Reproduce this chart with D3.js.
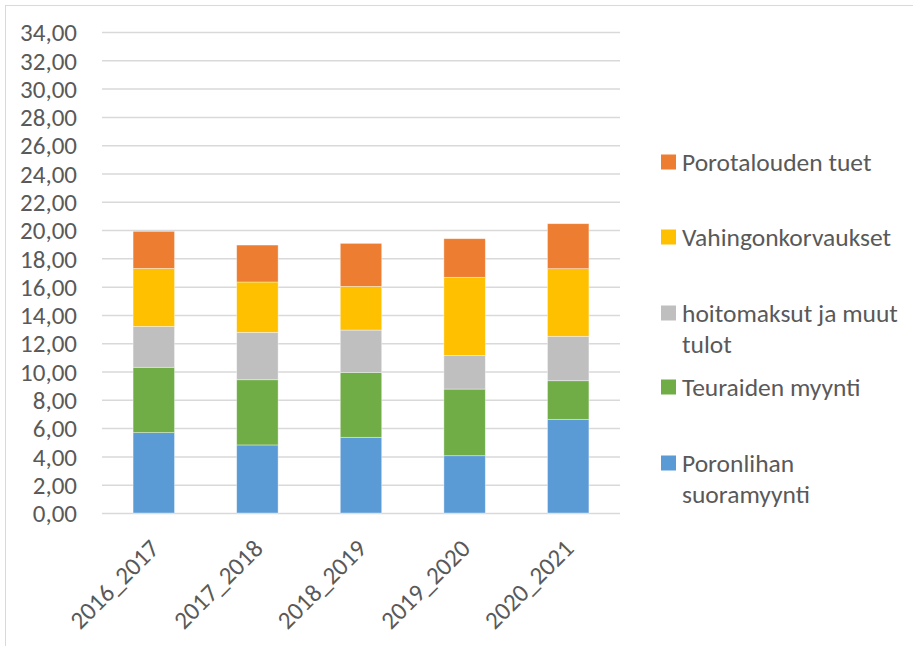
<!DOCTYPE html>
<html>
<head>
<meta charset="utf-8">
<script src="https://cdn.jsdelivr.net/npm/d3@7"></script>
<style>
  body { margin: 0; background: #fff; }
  svg text { font-family: Carlito, Calibri, Lato, sans-serif; fill: #595959; }
</style>
</head>
<body>
<svg id="chart" width="913" height="646"></svg>
<script>
// kaudet ja sarjat (milj. euroa)
const seasons = ['2016_2017', '2017_2018', '2018_2019', '2019_2020', '2020_2021'];
const seriesNames = ['Poronlihan suoramyynti', 'Teuraiden myynti', 'hoitomaksut ja muut tulot', 'Vahingonkorvaukset', 'Porotalouden tuet'];
const suoramyynti = [5.68, 4.81, 5.35, 4.05, 6.62];
const teuraat = [4.62, 4.61, 4.59, 4.71, 2.73];
const hoitomaksut = [2.89, 3.35, 2.99, 2.38, 3.14];
const vahingot = [4.10, 3.56, 3.09, 5.52, 4.78];
const tuet = [2.62, 2.61, 3.04, 2.73, 3.18];
const yTicks = d3.range(0, 36, 2);

const colors = ['#5B9BD5', '#70AD47', '#BFBFBF', '#FFC000', '#ED7D31'];

let rows = seasons.map(function(s, i) {
    return {
        season: s,
        s0: suoramyynti[i], s1: teuraat[i], s2: hoitomaksut[i], s3: vahingot[i], s4: tuet[i]
    };
});
let keys = ['s0', 's1', 's2', 's3', 's4'];
let stacked = d3.stack().keys(keys)(rows);

let svg = d3.select('#chart');

// chart area border
svg.append('rect')
    .attr('x', 5.5).attr('y', 5.5)
    .attr('width', 930).attr('height', 660)
    .attr('fill', 'none').attr('stroke', '#d9d9d9').attr('stroke-width', 1);

let margin = {top: 32, left: 102, right: 293, bottom: 133};
let width = 913 - margin.left - margin.right,
    height = 646 - margin.top - margin.bottom;

let g = svg.append('g')
    .attr('transform', 'translate(' + margin.left + ',' + margin.top + ')');

let x = d3.scaleBand().domain(seasons).range([0, width]).paddingInner(0.6).paddingOuter(0.3);
let y = d3.scaleLinear().domain([0, 34]).range([height, 0]);

let yAxis = d3.axisLeft(y).tickValues(yTicks).tickSize(-width)
    .tickFormat(function(d) { return d3.format('.2f')(d).replace('.', ','); });

g.append('g')
    .call(yAxis)
    .call(function(a) {
        a.select('.domain').remove();
        a.selectAll('.tick line').attr('stroke', '#d9d9d9').attr('stroke-width', 1.5);
        a.selectAll('.tick text').attr('x', -25).attr('font-size', 25).attr('dy', '0.35em');
    });

g.selectAll('.serie')
    .data(stacked)
    .enter().append('g')
    .attr('fill', function(d, i) { return colors[i]; })
    .selectAll('rect')
    .data(function(d) { return d; })
    .enter().append('rect')
    .attr('x', function(d) { return x(d.data.season); })
    .attr('y', function(d) { return y(d[1]); })
    .attr('width', x.bandwidth())
    .attr('height', function(d) { return y(d[0]) - y(d[1]); })
    .attr('stroke', '#ffffff').attr('stroke-opacity', 0.5).attr('stroke-width', 0.75);

let xAxis = d3.axisBottom(x).tickSize(0);
g.append('g')
    .attr('transform', 'translate(0,' + height + ')')
    .call(xAxis)
    .call(function(a) {
        a.select('.domain').remove();
        a.selectAll('.tick text')
            .attr('font-size', 25)
            .attr('text-anchor', 'end')
            .attr('y', 0).attr('dy', 0)
            .attr('transform', 'translate(7,37) rotate(-45)');
    });

// legend, top to bottom reversed order
let legendItems = [
    {i: 4, lines: ['Porotalouden tuet'], y: 162},
    {i: 3, lines: ['Vahingonkorvaukset'], y: 237},
    {i: 2, lines: ['hoitomaksut ja muut', 'tulot'], y: 313},
    {i: 1, lines: ['Teuraiden myynti'], y: 387},
    {i: 0, lines: ['Poronlihan', 'suoramyynti'], y: 463}
];

let legend = svg.append('g');
let item = legend.selectAll('g').data(legendItems).enter().append('g')
    .attr('transform', function(d) { return 'translate(661,' + d.y + ')'; });
item.append('rect')
    .attr('x', 0).attr('y', -7.5).attr('width', 15).attr('height', 15)
    .attr('fill', function(d) { return colors[d.i]; });
item.append('text')
    .attr('x', 21).attr('font-size', 25.5)
    .selectAll('tspan')
    .data(function(d) { return d.lines; })
    .enter().append('tspan')
    .attr('x', 21)
    .attr('y', function(d, k) { return k * 30.5; })
    .attr('dy', '0.36em')
    .text(function(d) { return d; });
</script>
</body>
</html>
